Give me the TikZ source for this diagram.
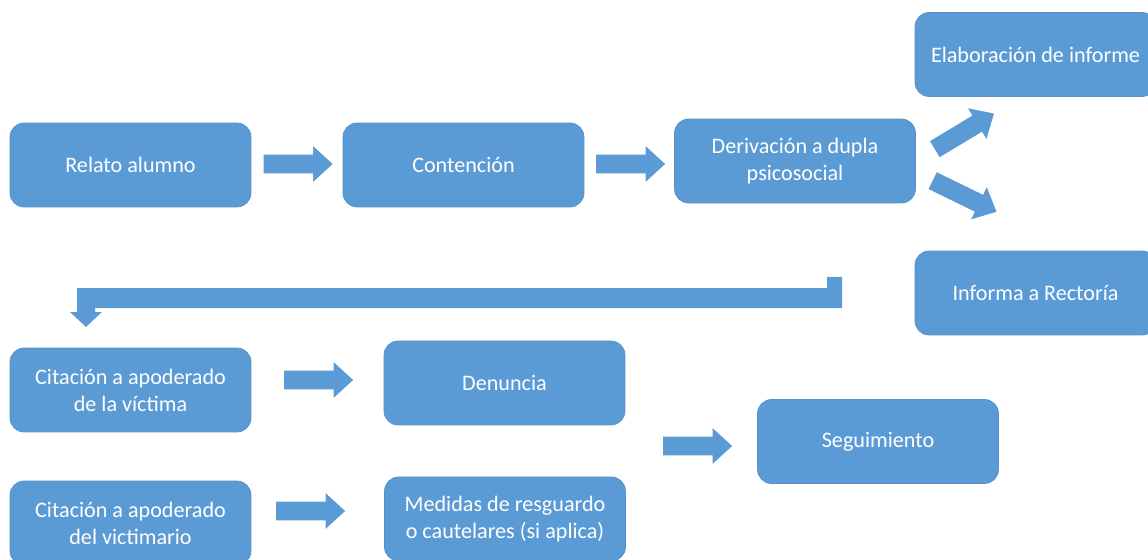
\documentclass[tikz,border=0pt]{standalone}
\usepackage{fontspec}
\setmainfont{Carlito}
\usepackage{tikz}
\usetikzlibrary{shapes.arrows}

\definecolor{boxblue}{HTML}{5B9BD5}
\definecolor{boxline}{HTML}{5590C8}

\tikzset{
	paso/.style={rectangle, rounded corners=0.28cm, fill=boxblue, draw=boxline, line width=0.4pt,
		minimum width=4.82cm, minimum height=1.68cm, align=center, text=white,
		font=\fontsize{12.6}{15.4}\selectfont},
	flecha/.style={single arrow, fill=boxblue, draw=none, inner xsep=0pt, inner ysep=0.18cm,
		minimum height=1.38cm, single arrow head extend=0.17cm, single arrow tip angle=85}
}

\begin{document}
\begin{tikzpicture}[x=0.02cm, y=-0.02cm]
	\clip (0,0) rectangle (1148,560);
	\fill[white] (0,0) rectangle (1148,560);

	\node[paso] (relato) at (130.5,165) {Relato alumno};
	\node[paso] (contencion) at (463.5,165) {Contención};
	\node[paso] (derivacion) at (795,161) {Derivación a dupla\\psicosocial};
	\node[paso] (informe) at (1035.5,54.5) {Elaboración de informe};
	\node[paso] (rectoria) at (1035.5,293) {Informa a Rectoría};
	\node[paso] (victima) at (130.5,390) {Citación a apoderado\\de la víctima};
	\node[paso] (denuncia) at (504.5,383) {Denuncia};
	\node[paso] (seguimiento) at (878,441.5) {Seguimiento};
	\node[paso] (victimario) at (130.5,523) {Citación a apoderado\\del victimario};
	\node[paso] (medidas) at (505,519) {Medidas de resguardo\\o cautelares (si aplica)};

	\node[flecha] (f1) at (293,164) {};
	\node[flecha] (f2) at (625.5,164) {};
	\node[flecha, rotate=31, minimum height=1.38cm] (f3) at (960,134) {};
	\node[flecha, rotate=-26, minimum height=1.42cm] (f4) at (960,194) {};
	\node[flecha] (f5) at (313.5,380) {};
	\node[flecha] (f6) at (305.5,511) {};
	\node[flecha] (f7) at (692.5,446) {};

	\fill[boxblue] (842,277)--(842,308)--(95,308)--(95,312)--(102,312)--(86,327)--(70,312)
		--(77,312)--(77,288)--(827,288)--(827,277)--cycle;
\end{tikzpicture}
\end{document}
